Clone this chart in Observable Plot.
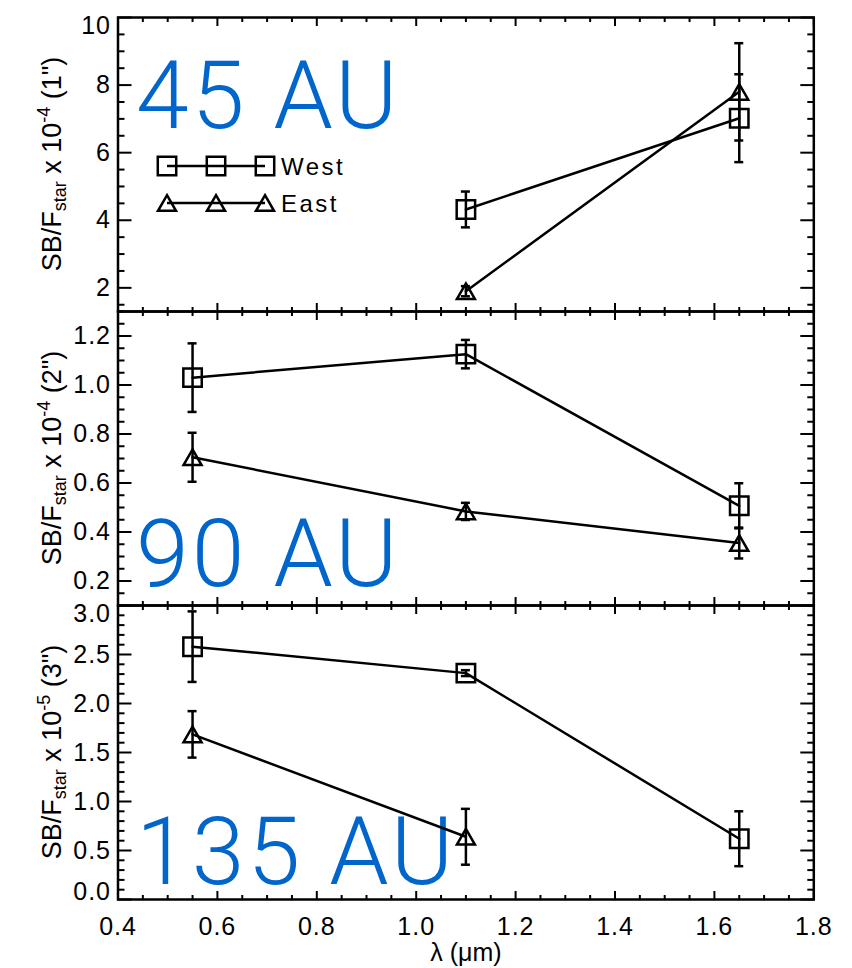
<!DOCTYPE html>
<html><head><meta charset="utf-8">
<script src="https://cdn.jsdelivr.net/npm/d3@7"></script>
<script src="https://cdn.jsdelivr.net/npm/@observablehq/plot@0.6"></script>
<style>
body{margin:0;background:#fff;}
#wrap{position:relative;width:852px;height:968px;overflow:hidden;background:#fff;}
#wrap svg{position:absolute;left:0;overflow:visible;}
g[aria-label="y-axis tick label"] text, g[aria-label="x-axis tick label"] text{letter-spacing:1px;}
</style>
</head><body><div id="wrap"></div>
<script>
// ---- data ----
const wavelengths = [0.55, 1.1, 1.65];           // λ (μm)
const panelNames = ["45 AU", "90 AU", "135 AU"];
const exponents = ["-4", "-4", "-5"];
const radii = ["1", "2", "3"];

// 45 AU (x 1e-4)
const west45 = [null, 4.32, 7.02];
const west45Err = [null, 0.53, 1.30];
const east45 = [null, 1.90, 7.80];
const east45Err = [null, 0.15, 1.44];
// 90 AU (x 1e-4)
const west90 = [1.03, 1.126, 0.507];
const west90Err = [0.14, 0.058, 0.092];
const east90 = [0.705, 0.484, 0.355];
const east90Err = [0.10, 0.035, 0.063];
// 135 AU (x 1e-5)
const west135 = [2.58, 2.31, 0.62];
const west135Err = [0.36, 0.03, 0.28];
const east135 = [1.685, 0.64, null];
const east135Err = [0.237, 0.285, null];

const xTicks = [0.4, 0.6, 0.8, 1.0, 1.2, 1.4, 1.6, 1.8];
const yTicks45 = [2, 4, 6, 8, 10];
const yTicks90 = [0.2, 0.4, 0.6, 0.8, 1.0, 1.2];
const yTicks135 = [0.0, 0.5, 1.0, 1.5, 2.0, 2.5, 3.0];
const legendNames = ["West", "East"];

// ---- helpers ----
const blue = "#0066cc";
const FONT = "'Liberation Sans', Arial, Helvetica, sans-serif";
const triangleMid = {
  draw(ctx, size) {
    const r = Math.sqrt(size / Math.PI);
    const h = r * Math.sqrt(3);
    ctx.moveTo(0, -h / 2); ctx.lineTo(r, h / 2); ctx.lineTo(-r, h / 2); ctx.closePath();
  }
};
const SQ_R = 10.4, TRI_R = 9;

function rows(vals, errs) {
  return wavelengths.map((x, i) => ({x, y: vals[i], e: errs[i]})).filter(d => d.y != null);
}

function seriesMarks(data, symbol, r) {
  const s = {stroke: "black", strokeWidth: 2.5};
  return [
    Plot.line(data, {x: "x", y: "y", ...s}),
    Plot.ruleX(data, {x: "x", y1: d => d.y - d.e, y2: d => d.y + d.e, ...s}),
    Plot.ruleY(data, {x1: "x", x2: "x", y: d => d.y - d.e, insetLeft: -4.5, insetRight: -4.5, ...s}),
    Plot.ruleY(data, {x1: "x", x2: "x", y: d => d.y + d.e, insetLeft: -4.5, insetRight: -4.5, ...s}),
    Plot.dot(data, {x: "x", y: "y", symbol, r, fill: "none", ...s})
  ];
}

const xMinor = d3.range(8, 37).filter(i => i % 4 !== 0).map(i => i * 0.05);

function tickMarks(yMaj, yMin) {
  const o = {label: null, fill: "none", stroke: "black", strokeWidth: 2};
  return [
    Plot.axisX(xTicks, {...o, anchor: "bottom", tickSize: -8}),
    Plot.axisX(xTicks, {...o, anchor: "top", tickSize: -8}),
    Plot.axisX(xMinor, {...o, anchor: "bottom", tickSize: -4}),
    Plot.axisX(xMinor, {...o, anchor: "top", tickSize: -4}),
    Plot.axisY(yMaj, {...o, anchor: "left", tickSize: -14}),
    Plot.axisY(yMaj, {...o, anchor: "right", tickSize: -14}),
    Plot.axisY(yMin, {...o, anchor: "left", tickSize: -7}),
    Plot.axisY(yMin, {...o, anchor: "right", tickSize: -7})
  ];
}

function yLabels(ticks, fmt, domain) {
  const [lo, hi] = domain;
  const inner = ticks.filter(t => t !== lo && t !== hi);
  const o = {anchor: "left", tickSize: 0, tickPadding: 7, tickFormat: fmt, fontSize: 25, label: null};
  const m = [Plot.axisY(inner, o)];
  if (ticks.includes(hi)) m.push(Plot.axisY([hi], {...o, dy: 8}));
  if (ticks.includes(lo)) m.push(Plot.axisY([lo], {...o, dy: -8}));
  return m;
}

const PLOT_H = 294;
function makePanel(cfg) {
  const marks = [
    Plot.text([cfg.name], {frameAnchor: cfg.anchor, dx: 18, dy: cfg.labelDy, textAnchor: "start",
      lineAnchor: "bottom", fontSize: 95, fill: blue, fontFamily: "Roboto, 'Liberation Sans', sans-serif", fontWeight: 300}),
    ...seriesMarks(cfg.west, "square", SQ_R),
    ...seriesMarks(cfg.east, triangleMid, TRI_R),
    Plot.frame({stroke: "black", strokeWidth: 2.5}),
    ...tickMarks(cfg.yMaj, cfg.yMin),
    ...yLabels(cfg.yMaj, cfg.fmt, cfg.domain)
  ];
  if (cfg.showX) {
    marks.push(Plot.axisX(xTicks, {anchor: "bottom", tickSize: 0, tickPadding: 18, tickFormat: d3.format(".1f"), fontSize: 25, label: null}));
    marks.push(Plot.text(["λ (μm)"], {frameAnchor: "bottom", dy: 61, lineAnchor: "bottom", fontSize: 25, fill: "black"}));
  }
  const svg = Plot.plot({
    width: 852, height: cfg.mt + PLOT_H + cfg.mb,
    marginTop: cfg.mt, marginBottom: cfg.mb, marginLeft: 117.5, marginRight: 38.7,
    x: {domain: [0.4, 1.8]},
    y: {domain: cfg.domain},
    style: {fontFamily: FONT, background: "transparent", overflow: "visible", color: "black"},
    marks
  });
  svg.style.top = cfg.top + "px";
  // widen the big blue distance label slightly
  d3.select(svg).selectAll("text").filter(function() { return this.textContent === cfg.name; })
    .attr("letter-spacing", 3);
  // y-axis title with sub/superscript
  const cy = cfg.mt + PLOT_H / 2;
  const t = d3.select(svg).append("text")
    .attr("transform", `translate(61,${cy}) rotate(-90)`)
    .attr("text-anchor", "middle").attr("font-size", 27).attr("font-family", FONT).attr("fill", "black");
  t.append("tspan").text("SB/F");
  t.append("tspan").attr("font-size", 18).attr("dy", 5).text("star");
  t.append("tspan").attr("dy", -5).text(" x 10");
  t.append("tspan").attr("font-size", 18).attr("dy", -11).text(cfg.exp);
  t.append("tspan").attr("dy", 11).text(` (${cfg.radius}")`);
  document.getElementById("wrap").appendChild(svg);
  return svg;
}

const svg1 = makePanel({
  name: panelNames[0], anchor: "top-left", labelDy: 110, top: 0, mt: 17, mb: 5,
  west: rows(west45, west45Err), east: rows(east45, east45Err),
  domain: [1.3, 10], yMaj: yTicks45,
  yMin: d3.range(3, 20).map(i => i / 2).filter(v => v % 2 !== 0),
  fmt: d3.format("d"), exp: exponents[0], radius: radii[0]
});
makePanel({
  name: panelNames[1], anchor: "bottom-left", labelDy: -20, top: 306, mt: 5, mb: 5,
  west: rows(west90, west90Err), east: rows(east90, east90Err),
  domain: [0.1, 1.3], yMaj: yTicks90,
  yMin: d3.range(2, 27).filter(i => i % 4 !== 0).map(i => i * 0.05),
  fmt: d3.format(".1f"), exp: exponents[1], radius: radii[1]
});
makePanel({
  name: panelNames[2], anchor: "bottom-left", labelDy: -16, top: 600, mt: 5, mb: 69,
  west: rows(west135, west135Err), east: rows(east135, east135Err),
  domain: [0, 3], yMaj: yTicks135,
  yMin: d3.range(0, 31).filter(i => i % 5 !== 0).map(i => i / 10),
  fmt: d3.format(".1f"), exp: exponents[2], radius: radii[2], showX: true
});

// legend in the top panel
const lg = d3.select(svg1).append("g").attr("stroke", "black").attr("stroke-width", 2.5).attr("fill", "none");
const legendX = [167, 216, 265];
const legendTypes = [d3.symbolSquare, triangleMid];
const legendR = [SQ_R, TRI_R];
const legendY = [166, 203];
legendNames.forEach((name, k) => {
  lg.append("line").attr("x1", legendX[0]).attr("x2", legendX[2]).attr("y1", legendY[k]).attr("y2", legendY[k]);
  const p = d3.symbol(legendTypes[k], Math.PI * legendR[k] ** 2)();
  legendX.forEach(x => lg.append("path").attr("d", p).attr("transform", `translate(${x},${legendY[k]})`));
  d3.select(svg1).append("text").attr("x", 281).attr("y", legendY[k] + 9).attr("font-size", 24)
    .attr("text-anchor", "start").attr("letter-spacing", 2.5).attr("font-family", FONT)
    .attr("fill", "black").text(name);
});
</script>
</body></html>
